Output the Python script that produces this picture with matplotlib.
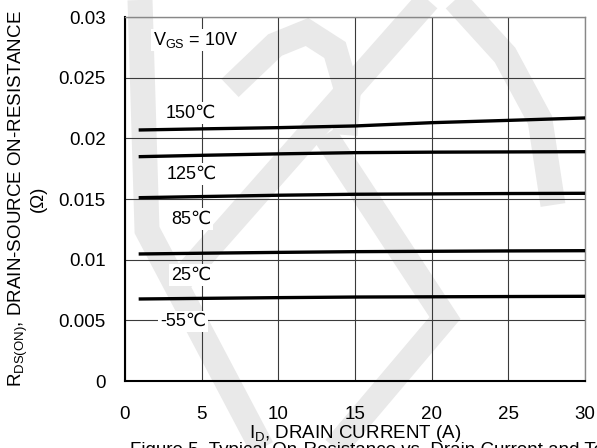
import matplotlib
matplotlib.use("Agg")
import matplotlib.pyplot as plt
from matplotlib.lines import Line2D

plt.rcParams['font.family'] = ['Liberation Sans', 'DejaVu Sans']
plt.rcParams['mathtext.fontset'] = 'custom'
plt.rcParams['mathtext.rm'] = 'Liberation Sans'

# drain current (A)
id_a = [1, 5, 10, 15, 20, 25, 30]
# on-resistance (ohm) per junction temperature
r_150 = [0.02069, 0.02078, 0.02088, 0.02102, 0.02129, 0.02148, 0.02168]
r_125 = [0.01849, 0.01860, 0.01872, 0.01882, 0.01886, 0.01888, 0.01890]
r_85 = [0.01511, 0.01520, 0.01531, 0.01539, 0.01542, 0.01545, 0.01547]
r_25 = [0.01047, 0.01053, 0.01060, 0.01066, 0.01069, 0.01072, 0.01074]
r_m55 = [0.00676, 0.00681, 0.00687, 0.00692, 0.00694, 0.00696, 0.00698]
curves = [r_150, r_125, r_85, r_25, r_m55]

labels = ['150℃', '125℃', '85℃', '25℃', '-55℃']
label_x = [4.3, 4.35, 4.3, 4.3, 3.8]
label_y = [0.02209, 0.01706, 0.01335, 0.00874, 0.00489]

xticks = [0, 5, 10, 15, 20, 25, 30]
yticks = [0, 0.005, 0.01, 0.015, 0.02, 0.025, 0.03]
ytick_labels = ['0', '0.005', '0.01', '0.015', '0.02', '0.025', '0.03']

W, H = 597, 448
fig = plt.figure(figsize=(W / 100, H / 100), dpi=100)
ax = fig.add_axes([125 / W, 1 - 381 / H, 460 / W, 364 / H])
ax.patch.set_facecolor('none')

# watermark strokes behind the chart (pixel coords, y from top)
wm = [
    [(140, 0), (147, 230), (262, 448)],
    [(428, 0), (172, 290)],
    [(230, 88), (275, 45), (307, 32), (335, 50), (348, 95), (345, 135)],
    [(325, 135), (445, 318), (335, 448)],
    [(455, 0), (505, 55), (540, 120), (553, 205)],
]
for pts in wm:
    xs = [p[0] / W for p in pts]
    ys = [1 - p[1] / H for p in pts]
    fig.add_artist(Line2D(xs, ys, transform=fig.transFigure, color='#e9e9e9',
                          lw=18, solid_capstyle='butt', solid_joinstyle='miter', zorder=-5))

for r in curves:
    ax.plot(id_a, r, color='black', lw=2.4, zorder=3)

for t, x, y in zip(labels, label_x, label_y):
    ax.text(x, y, t, fontsize=13, ha='center', va='center', zorder=4,
            bbox=dict(facecolor='white', edgecolor='none', pad=1.5))
ax.text(1.8, 0.0281, r'V$_\mathrm{GS}$ = 10V', fontsize=13, ha='left', va='center', zorder=4,
        bbox=dict(facecolor='white', edgecolor='none', pad=1.0))

ax.set_xlim(0, 30)
ax.set_ylim(0, 0.03)
ax.set_xticks(xticks)
ax.set_yticks(yticks)
ax.set_yticklabels(ytick_labels)
ax.tick_params(length=0, labelsize=13.5)
ax.tick_params(axis='y', pad=14)
ax.tick_params(axis='x', pad=18)
ax.grid(True, color='#3a3a3a', lw=0.8)
ax.set_axisbelow(True)
for s in ['top', 'right']:
    ax.spines[s].set_color('#888888')
    ax.spines[s].set_linewidth(1.0)
for s in ['left', 'bottom']:
    ax.spines[s].set_color('black')
    ax.spines[s].set_linewidth(1.5)

fig.text(355 / W, 1 - 433 / H, r'I$_\mathrm{D}$, DRAIN CURRENT (A)', fontsize=13.5,
         ha='center', va='center')
fig.text(27 / W, 1 - 199 / H, 'R$_\\mathrm{DS(ON)}$, DRAIN-SOURCE ON-RESISTANCE\n(Ω)',
         fontsize=13.5, rotation=90, ha='center', va='center', linespacing=1.0,
         multialignment='center')

fig.text(130 / W, 1 - 442 / H, 'Figure 5. Typical On-Resistance vs. Drain Current and Temperature',
         fontsize=13.5, ha='left', va='top')

fig.savefig('out.png', dpi=100)
